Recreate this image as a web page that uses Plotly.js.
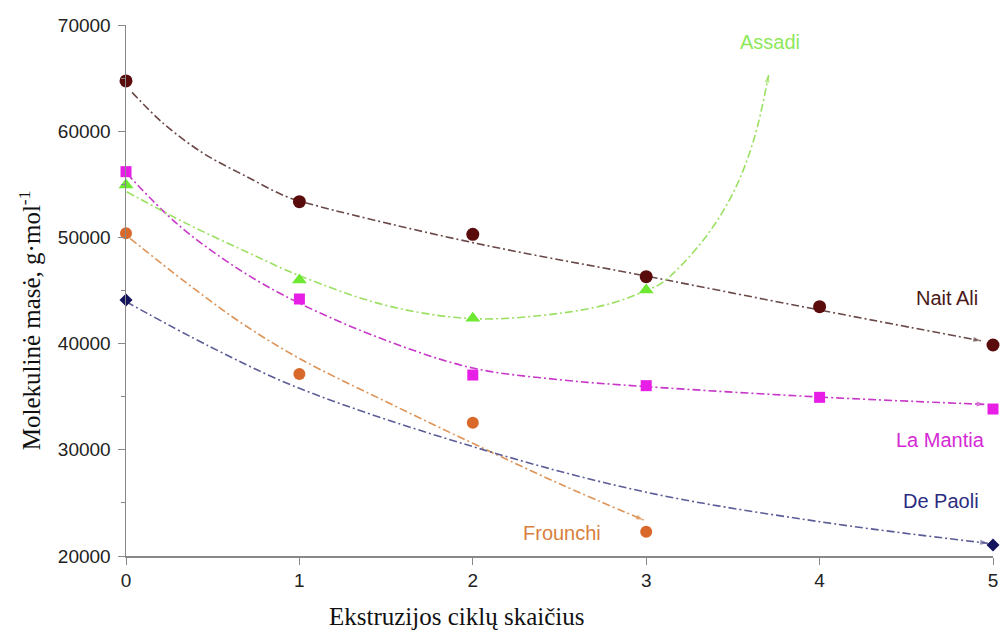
<!DOCTYPE html>
<html>
<head>
<meta charset="utf-8">
<script src="https://cdn.plot.ly/plotly-3.0.1.min.js"></script>
<style>html,body{margin:0;padding:0;background:#fff}#chart{width:1003px;height:633px}</style>
</head>
<body>
<div id="chart"></div>
<script>
// ---- data ----
const seriesNames = ["Nait Ali", "La Mantia", "Assadi", "Frounchi", "De Paoli"];
const xTitle = "Ekstruzijos ciklų skaičius";
const yTitle = "Molekulinė masė, g·mol<sup>-1</sup>";

const naitAliX = [0, 1, 2, 3, 4, 5];
const naitAliY = [64730, 53360, 50290, 46300, 43475, 39870];
const laMantiaX = [0, 1, 2, 3, 4, 5];
const laMantiaY = [56190, 44200, 37040, 36040, 34940, 33840];
const assadiX = [0, 1, 2, 3];
const assadiY = [54930, 45990, 42380, 45050];
const frounchiX = [0, 1, 2, 3];
const frounchiY = [50390, 37140, 32550, 22290];
const dePaoliX = [0, 5];
const dePaoliY = [44100, 21040];

// trend curves
const naitAliTrendX = [0.035, 0.215, 0.446, 0.696, 0.927, 1.12, 2.02, 3.0, 4.0, 4.93];
const naitAliTrendY = [63660, 60740, 57920, 55720, 53830, 52890, 49440, 46360, 43160, 40270];
const laMantiaTrendX = [0.004, 0.3, 0.66, 1.0, 1.5, 2.0, 2.5, 3.0, 4.0, 4.95];
const laMantiaTrendY = [56040, 51200, 46900, 43800, 40300, 37700, 36600, 35950, 34970, 34280];
const assadiTrendX = [0.004, 0.35, 0.7, 1.0, 1.5, 2.0, 2.5, 2.8, 3.0, 3.1, 3.33, 3.5, 3.62, 3.706];
const assadiTrendY = [54300, 51300, 48600, 46400, 43600, 42350, 42850, 43800, 45000, 45830, 49760, 54150, 59170, 65290];
const frounchiTrendX = [0.023, 0.35, 0.66, 1.0, 1.5, 2.0, 2.5, 2.985];
const frounchiTrendY = [49910, 45700, 42000, 38600, 34530, 30610, 26800, 23390];
const dePaoliTrendX = [0, 0.485, 1.0, 2.0, 2.985, 4.0, 4.97];
const dePaoliTrendY = [43950, 39710, 35790, 30300, 26060, 23230, 21200];

// ---- styling ----
const markerColors = ["#5a0c0c", "#e61ee6", "#6ee832", "#d9692a", "#14145e"];
const trendColors  = ["#6a4848", "#c838c8", "#9ce062", "#dc9458", "#5c5c96"];
const labelColors  = ["#4a1818", "#d42ad4", "#8ee85a", "#d8803e", "#2c2c80"];
const symbols = ["circle", "square", "triangle-up", "circle", "diamond"];
const sizes = [13, 11, 13, 12, 10];
const dash = "8px,3px,2px,3px";

const pts = [[naitAliX, naitAliY], [laMantiaX, laMantiaY], [assadiX, assadiY], [frounchiX, frounchiY], [dePaoliX, dePaoliY]];
const trends = [[naitAliTrendX, naitAliTrendY], [laMantiaTrendX, laMantiaTrendY], [assadiTrendX, assadiTrendY], [frounchiTrendX, frounchiTrendY], [dePaoliTrendX, dePaoliTrendY]];

const traces = [];
trends.forEach((t, i) => {
  const n = t[0].length;
  traces.push({
    x: t[0], y: t[1], type: "scatter", mode: "lines+markers",
    line: {color: trendColors[i], width: 1.6, dash: dash, shape: "spline", smoothing: 1},
    marker: {symbol: "arrow", angleref: "previous", color: trendColors[i],
             size: t[0].map((_, k) => k === n - 1 ? 8 : 0), line: {width: 0}},
    showlegend: false, hoverinfo: "skip", cliponaxis: false
  });
});
pts.forEach((p, i) => {
  traces.push({
    x: p[0], y: p[1], type: "scatter", mode: "markers", name: seriesNames[i],
    marker: {symbol: symbols[i], size: sizes[i], color: markerColors[i], line: {width: 0}},
    showlegend: false, cliponaxis: false
  });
});

const labelPos = [[4.737, 44290], [4.697, 30920], [3.716, 68400], [2.516, 22170], [4.70, 25180]];
const annotations = seriesNames.map((s, i) => ({
  x: labelPos[i][0], y: labelPos[i][1], xref: "x", yref: "y", text: s, showarrow: false,
  xanchor: "center", yanchor: "middle",
  font: {family: "Liberation Sans, Arial, sans-serif", size: 20, color: labelColors[i]}
}));
annotations.push({
  x: 0.382, y: -0.113, xref: "paper", yref: "paper", text: xTitle, showarrow: false,
  xanchor: "center", yanchor: "middle",
  font: {family: "Liberation Serif, Times New Roman, serif", size: 25, color: "#111"}
});
annotations.push({
  x: -0.1107, y: 0.444, xref: "paper", yref: "paper", text: yTitle, showarrow: false, textangle: -90,
  xanchor: "center", yanchor: "middle",
  font: {family: "Liberation Serif, Times New Roman, serif", size: 25, color: "#111"}
});

const layout = {
  width: 1003, height: 633,
  margin: {l: 126, r: 10, t: 25, b: 77},
  paper_bgcolor: "#fff", plot_bgcolor: "#fff",
  showlegend: false,
  font: {family: "Liberation Sans, Arial, sans-serif", color: "#222"},
  xaxis: {range: [0, 5], dtick: 1, tick0: 0, showgrid: false, zeroline: false,
          showline: true, linecolor: "#888", linewidth: 1.5, ticks: "outside", ticklen: 7,
          tickcolor: "#888", tickfont: {size: 19, color: "#222"}},
  yaxis: {range: [20000, 70000], dtick: 10000, tick0: 20000, tickformat: "d",
          showgrid: false, zeroline: false,
          showline: true, linecolor: "#888", linewidth: 1.5, ticks: "outside", ticklen: 7,
          tickcolor: "#888", tickfont: {size: 19, color: "#222"}, ticklabelstandoff: 3,
          minor: {ticks: "outside", dtick: 5000, ticklen: 4, tickcolor: "#888"}},
  annotations: annotations
};

Plotly.newPlot("chart", traces, layout, {displayModeBar: false, staticPlot: true});
</script>
</body>
</html>
